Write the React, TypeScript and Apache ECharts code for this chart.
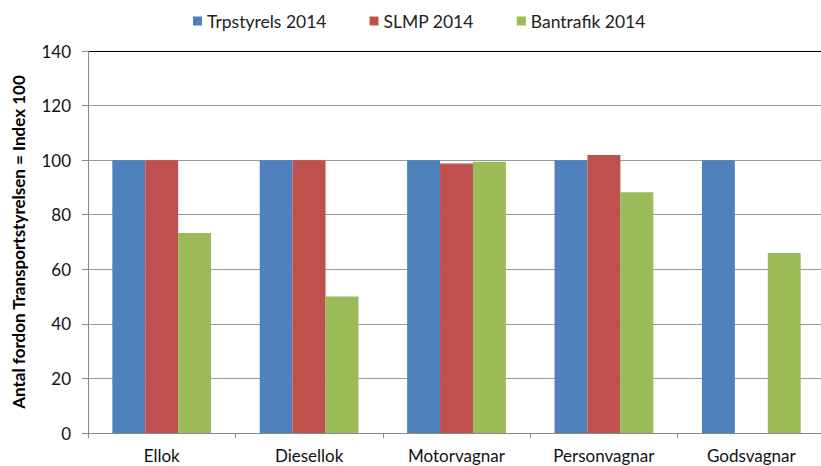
import React, { useEffect, useRef } from "react";
import * as echarts from "echarts";

const categories = ["Ellok", "Diesellok", "Motorvagnar", "Personvagnar", "Godsvagnar"];
const seriesNames = ["Trpstyrels 2014", "SLMP 2014", "Bantrafik 2014"];
const trpstyrels = [100, 100, 100, 100, 100];
const slmp: (number | null)[] = [100, 100, 98.8, 101.9, null];
const bantrafik = [73.3, 50, 99.4, 88.2, 66];
const colors = ["#4F81BD", "#C0504D", "#9BBB59"];
const FONT = "Lato, 'Open Sans', sans-serif";

export default function App() {
  const ref = useRef<HTMLDivElement>(null);
  useEffect(() => {
    const chart = echarts.init(ref.current!, null, { renderer: "svg" });
    chart.setOption({
      animation: false,
      color: colors,
      textStyle: { fontFamily: FONT },
      legend: {
        top: 7,
        left: 188,
        itemWidth: 9,
        itemHeight: 9,
        itemGap: 43,
        icon: "rect",
        textStyle: { fontSize: 17.5, color: "#222", fontFamily: FONT },
        data: seriesNames,
      },
      grid: { left: 88, right: -4, top: 51, bottom: 33, containLabel: false, outerBoundsMode: "none" },
      xAxis: {
        type: "category",
        data: categories,
        axisLine: { lineStyle: { color: "#888" } },
        axisTick: { show: true, length: 5, lineStyle: { color: "#888" } },
        axisLabel: { fontSize: 17, color: "#111", margin: 14, fontFamily: FONT },
      },
      yAxis: {
        type: "value",
        min: 0,
        max: 140,
        interval: 20,
        name: "Antal fordon Transportstyrelsen = Index 100",
        nameLocation: "middle",
        nameGap: 61,
        nameTextStyle: { fontSize: 17, fontWeight: "bold", color: "#000", fontFamily: FONT },
        axisLine: { show: true, lineStyle: { color: "#888" } },
        axisTick: { show: true, length: 6, inside: false, lineStyle: { color: "#888" } },
        axisLabel: { fontSize: 17, color: "#111", margin: 17, fontFamily: FONT },
        splitLine: {
          lineStyle: {
            color: ["#999", "#999", "#999", "#999", "#999", "#999", "#999", "#000"],
            width: 1,
          },
        },
      },
      series: [
        { name: seriesNames[0], type: "bar", data: trpstyrels, barGap: "0%", barCategoryGap: "33%" },
        { name: seriesNames[1], type: "bar", data: slmp, barGap: "0%", barCategoryGap: "33%" },
        { name: seriesNames[2], type: "bar", data: bantrafik, barGap: "0%", barCategoryGap: "33%" },
      ],
    });
    return () => chart.dispose();
  }, []);
  return <div ref={ref} style={{ width: 821, height: 466, position: "absolute", left: 0, top: 0 }} />;
}
